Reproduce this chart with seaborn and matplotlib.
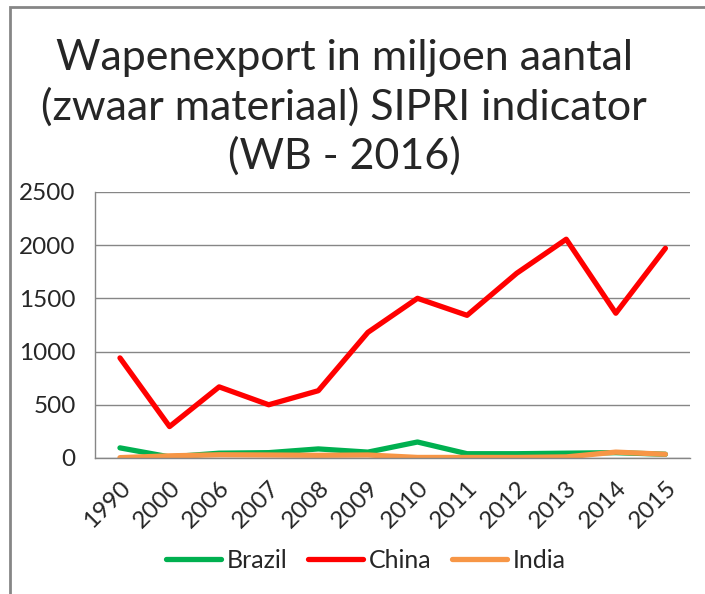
import pandas as pd
import matplotlib.pyplot as plt
import numpy as np
import seaborn as sns
from matplotlib.patches import Rectangle

years = ['1990', '2000', '2006', '2007', '2008', '2009', '2010', '2011', '2012', '2013', '2014', '2015']
brazil = [95, 10, 45, 50, 85, 55, 150, 40, 40, 45, 50, 35]
china = [940, 295, 668, 500, 632, 1180, 1500, 1340, 1735, 2055, 1360, 1970]
india = [3, 20, 30, 28, 25, 28, 5, 5, 5, 10, 55, 35]
countries = ['Brazil', 'China', 'India']
kleuren = ['#00B050', '#FF0000', '#F79646']

df = pd.DataFrame({'jaar': years * 3,
                   'waarde': brazil + china + india,
                   'land': [c for c in countries for _ in years]})

sns.set_style('white')
plt.rcParams['font.family'] = ['Lato', 'DejaVu Sans']

fig = plt.figure(figsize=(7.05, 5.94), dpi=100)
ax = fig.add_axes([0.135, 0.229, 0.844, 0.448])

sns.lineplot(data=df, x='jaar', y='waarde', hue='land', palette=kleuren,
             linewidth=3.8, ax=ax, sort=False)

ax.set_xlim(-0.5, 11.5)
ax.set_ylim(0, 2500)
ax.set_yticks(np.arange(0, 2501, 500))
ax.yaxis.grid(True, color='#868686', linewidth=1)
ax.set_axisbelow(True)
for s in ['top', 'right']:
    ax.spines[s].set_visible(False)
for s in ['left', 'bottom']:
    ax.spines[s].set_color('#868686')
    ax.spines[s].set_linewidth(1)
ax.set_xticks(np.arange(-0.5, 12, 1), minor=True)
ax.tick_params(axis='x', which='major', length=0, pad=14)
ax.tick_params(axis='x', which='minor', length=6, color='#868686', direction='out')
ax.tick_params(axis='y', length=7, color='#868686', direction='out', pad=7)
plt.setp(ax.get_xticklabels(), rotation=45, ha='right', rotation_mode='anchor', fontsize=17.5)
plt.setp(ax.get_yticklabels(), fontsize=17.5)
ax.set_xlabel('')
ax.set_ylabel('')

fig.suptitle('Wapenexport in miljoen aantal\n(zwaar materiaal) SIPRI indicator\n(WB - 2016)',
             x=0.488, y=0.934, fontsize=31, linespacing=1.31, va='top')

ax.legend(loc='center', bbox_to_anchor=(0.455, -0.385), ncol=3, frameon=False,
          fontsize=18, handlelength=2.2, columnspacing=0.85, handletextpad=0.2)

fig.patches.append(Rectangle((10 / 705, -0.02), 1.2, 1 - 7 / 594 + 0.02, transform=fig.transFigure,
                             fill=False, edgecolor='#868686', linewidth=2))

plt.savefig('out.png', dpi=100)
